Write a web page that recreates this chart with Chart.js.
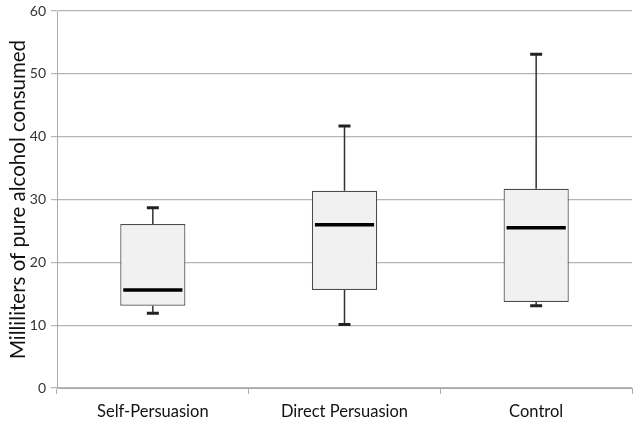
<!DOCTYPE html>
<html><head><meta charset="utf-8">
<script src="https://cdn.jsdelivr.net/npm/chart.js@4/dist/chart.umd.min.js"></script>
<style>html,body{margin:0;padding:0;background:#fff}#wrap{width:633px;height:421px}</style>
</head><body><div id="wrap"><canvas id="c"></canvas></div>
<script>
const categories = ["Self-Persuasion", "Direct Persuasion", "Control"];
const minValues = [11.9, 10.1, 13.1];
const q1Values = [13.1, 15.6, 13.7];
const medianValues = [15.6, 26.0, 25.5];
const q3Values = [26.1, 31.4, 31.7];
const maxValues = [28.7, 41.7, 53.1];
const yTicks = [0, 10, 20, 30, 40, 50, 60];

const boxPlugin = {
  id: 'boxParts',
  afterDatasetsDraw(chart) {
    const ctx = chart.ctx, x = chart.scales.x, y = chart.scales.y;
    const meta = chart.getDatasetMeta(0);
    ctx.save();
    categories.forEach((c, i) => {
      const cx = x.getPixelForValue(i);
      const bar = meta.data[i];
      const half = bar.width / 2;
      ctx.strokeStyle = '#333';
      ctx.lineWidth = 1.5;
      ctx.beginPath();
      ctx.moveTo(cx, y.getPixelForValue(q3Values[i]));
      ctx.lineTo(cx, y.getPixelForValue(maxValues[i]));
      ctx.moveTo(cx, y.getPixelForValue(q1Values[i]));
      ctx.lineTo(cx, y.getPixelForValue(minValues[i]));
      ctx.stroke();
      ctx.strokeStyle = '#222';
      ctx.lineWidth = 3;
      ctx.beginPath();
      ctx.moveTo(cx - 6, y.getPixelForValue(maxValues[i]));
      ctx.lineTo(cx + 6, y.getPixelForValue(maxValues[i]));
      ctx.moveTo(cx - 6, y.getPixelForValue(minValues[i]));
      ctx.lineTo(cx + 6, y.getPixelForValue(minValues[i]));
      ctx.stroke();
      ctx.strokeStyle = '#000';
      ctx.lineWidth = 3.5;
      ctx.beginPath();
      ctx.moveTo(cx - half + 3, y.getPixelForValue(medianValues[i]));
      ctx.lineTo(cx + half - 3, y.getPixelForValue(medianValues[i]));
      ctx.stroke();
    });
    ctx.restore();
  }
};

new Chart(document.getElementById('c'), {
  type: 'bar',
  data: {
    labels: categories,
    datasets: [{
      data: categories.map((c, i) => [q1Values[i], q3Values[i]]),
      backgroundColor: '#f1f1f1',
      borderColor: '#4a4a4a',
      borderWidth: 1.2,
      borderSkipped: false,
      categoryPercentage: 1,
      barPercentage: 0.34
    }]
  },
  options: {
    responsive: true,
    maintainAspectRatio: false,
    animation: false,
    devicePixelRatio: 1,
    layout: { padding: { top: 0, right: 1, left: 6, bottom: 0 } },
    plugins: { legend: { display: false }, tooltip: { enabled: false } },
    scales: {
      x: {
        afterFit(s) { s.height = 33; },
        grid: { display: true, drawOnChartArea: false, offset: true, tickLength: 6, color: '#aaa', tickWidth: 1 },
        border: { color: '#aaa' },
        ticks: { color: '#111', font: { family: 'Lato', size: 16.5 }, padding: 8 }
      },
      y: {
        min: 0, max: 60,
        afterFit(s) { s.width = 51; s.paddingTop = 11; },
        afterBuildTicks(s) { s.ticks = yTicks.map(v => ({ value: v })); },
        grid: { color: '#b5b5b5', tickLength: 6, lineWidth: 1.2 },
        border: { color: '#aaa' },
        ticks: { color: '#333', font: { family: 'Lato', size: 14 }, padding: 5 },
        title: { display: true, text: 'Milliliters of pure alcohol consumed', color: '#111', font: { family: 'Lato', size: 20.5 }, padding: { top: 0, bottom: 2 } }
      }
    }
  },
  plugins: [boxPlugin]
});
</script></body></html>
